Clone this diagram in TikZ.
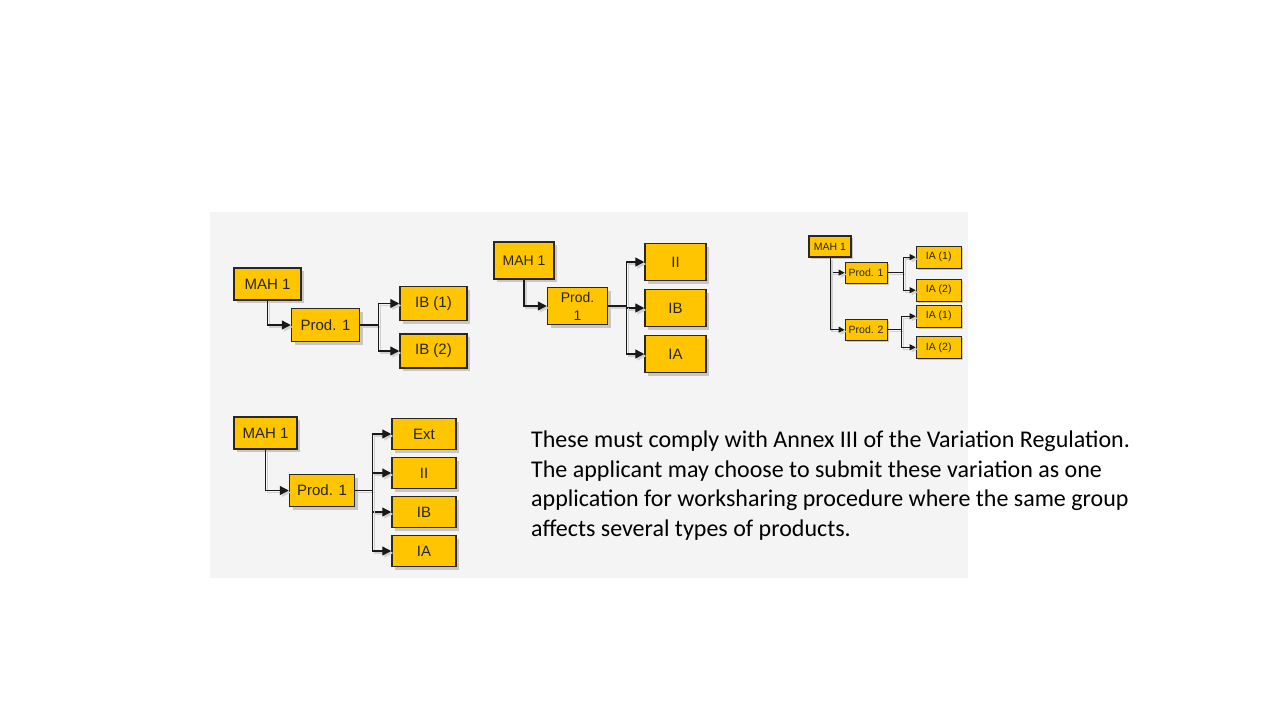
\documentclass[tikz,border=0pt]{standalone}
\usepackage{fontspec}
\setmainfont{Carlito}
\newfontfamily\boxfont{Liberation Sans}
\usetikzlibrary{positioning,arrows.meta,shadows}
\definecolor{boxgold}{RGB}{255,198,0}
\definecolor{boxedge}{RGB}{45,40,30}
\definecolor{panelgray}{RGB}{244,244,244}

\begin{document}
\begin{tikzpicture}[x=1pt, y=-1pt,
    box/.style={draw=boxedge, line width=1.5pt, fill=boxgold, inner sep=0pt, align=center, text=black!85},
    bigbox/.style={box, font=\boxfont\fontsize{15}{18}\selectfont,
        drop shadow={shadow xshift=3pt, shadow yshift=-3pt, fill=black!22, opacity=1}},
    tinybox/.style={box, line width=1.1pt, font=\boxfont\fontsize{10.5}{11}\selectfont,
        minimum width=42pt, minimum height=21pt,
        drop shadow={shadow xshift=2pt, shadow yshift=-2pt, fill=black!22, opacity=1}},
    ghost/.style={preaction={draw=black!18, line width=1.3pt, transform canvas={shift={(2pt,-2pt)}}}},
    arr/.style={ghost, -{Triangle[length=9pt,width=9pt]}, line width=1.3pt, draw=black!90},
    tinyarr/.style={ghost, -{Triangle[length=6pt,width=6pt]}, line width=0.9pt, draw=black!90},
    link/.style={ghost, line width=1.3pt, draw=black!90}
]
\useasboundingbox (0,0) rectangle (1280,720);
\fill[panelgray] (210,212) rectangle (968,578);

% first group: two IB
\node[bigbox, minimum width=67pt, minimum height=32pt] (mahA) at (267.5,284) {MAH 1};
\node[bigbox, minimum width=68pt, minimum height=33pt, below right=7pt and -11pt of mahA] (prodA) {Prod. 1};
\node[bigbox, minimum width=67pt, minimum height=34pt, right=39pt of prodA, yshift=21.5pt] (ibOneA) {IB (1)};
\node[bigbox, minimum width=67pt, minimum height=34pt, below=12pt of ibOneA] (ibTwoA) {IB (2)};

\draw[arr] (mahA.south) |- (prodA.west);
\draw[link] (prodA.east) -- ++(18,0) coordinate (splitA);
\foreach \n in {ibOneA, ibTwoA}
  \draw[arr] (splitA) |- (\n.west);

% second group: II, IB, IA
\node[bigbox, font=\boxfont\fontsize{14}{18}\selectfont, minimum width=60pt, minimum height=37pt] (mahB) at (524,260.5) {MAH 1};
\node[bigbox, font=\boxfont\fontsize{14}{18}\selectfont, minimum width=60pt, minimum height=37pt, below right=7pt and -8pt of mahB] (prodB) {Prod.\\1};
\node[bigbox, minimum width=61pt, minimum height=37pt, right=36pt of prodB, yshift=44pt] (iiB) {II};
\node[bigbox, minimum width=61pt, minimum height=37pt, below=7.5pt of iiB] (ibB) {IB};
\node[bigbox, minimum width=61pt, minimum height=37pt, below=7.5pt of ibB] (iaB) {IA};

\draw[arr] (mahB.south) |- (prodB.west);
\draw[link] (prodB.east) -- ++(18,0) coordinate (splitB);
\foreach \n in {iiB, ibB, iaB}
  \draw[arr] (splitB) |- (\n.west);

% third group: two products
\node[tinybox] (mahC) at (830,246.5) {MAH 1};
\node[tinybox, below right=4pt and -7pt of mahC] (prodOneC) {Prod. 1};
\node[tinybox, below=35pt of prodOneC] (prodTwoC) {Prod. 2};
\node[tinybox, minimum width=45pt, minimum height=22pt, right=28pt of prodOneC, yshift=15.5pt] (iaOneC) {IA (1)};
\node[tinybox, minimum width=45pt, minimum height=22pt, below=10pt of iaOneC] (iaTwoC) {IA (2)};
\node[tinybox, minimum width=45pt, minimum height=22pt, right=28pt of prodTwoC, yshift=13.5pt] (iaThreeC) {IA (1)};
\node[tinybox, minimum width=45pt, minimum height=22pt, below=8pt of iaThreeC] (iaFourC) {IA (2)};

\draw[tinyarr] (mahC.south) |- (prodOneC.west);
\draw[tinyarr] (mahC.south) |- (prodTwoC.west);
\draw[link, line width=0.9pt] (prodOneC.east) -- ++(16,0) coordinate (splitC);
\draw[link, line width=0.9pt] (prodTwoC.east) -- ++(14,0) coordinate (splitD);
\foreach \n in {iaOneC, iaTwoC}
  \draw[tinyarr] (splitC) |- (\n.west);
\foreach \n in {iaThreeC, iaFourC}
  \draw[tinyarr] (splitD) |- (\n.west);

% fourth group: Ext, II, IB, IA
\node[bigbox, minimum width=63pt, minimum height=32pt] (mahD) at (265.5,433) {MAH 1};
\node[bigbox, minimum width=65pt, minimum height=32pt, below right=24pt and -9pt of mahD] (prodD) {Prod. 1};
\node[bigbox, minimum width=64pt, minimum height=31pt, right=36pt of prodD, yshift=56.5pt] (extD) {Ext};
\node[bigbox, minimum width=64pt, minimum height=31pt, below=6.5pt of extD] (iiD) {II};
\node[bigbox, minimum width=64pt, minimum height=31pt, below=6.5pt of iiD] (ibD) {IB};
\node[bigbox, minimum width=64pt, minimum height=31pt, below=6.5pt of ibD] (iaD) {IA};

\draw[arr] (mahD.south) |- (prodD.west);
\draw[link] (prodD.east) -- ++(17,0) coordinate (splitE);
\foreach \n in {extD, iiD, ibD, iaD}
  \draw[arr] (splitE) |- (\n.west);

% explanation
\node[anchor=north west, align=left, inner sep=0pt, font=\fontsize{24}{29.4}\selectfont] (note) at (531,431)
  {These must comply with Annex III of the Variation Regulation.\\
   The applicant may choose to submit these variation as one\\
   application for worksharing procedure where the same group\\
   affects several types of products.};
\end{tikzpicture}
\end{document}
